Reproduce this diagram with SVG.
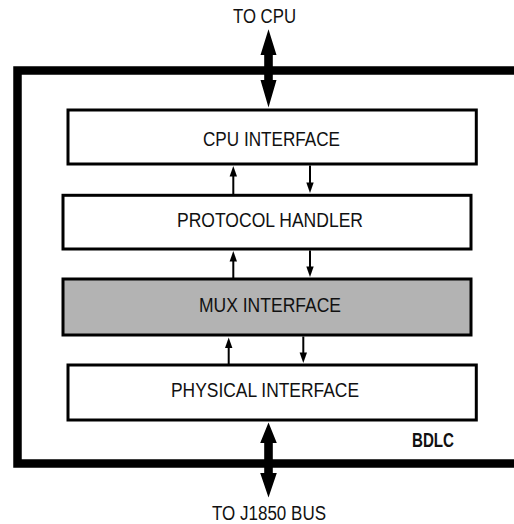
<svg xmlns="http://www.w3.org/2000/svg" width="514" height="524" viewBox="0 0 514 524">
<style>
.box{fill:#fff;stroke:#000;stroke-width:3}
.mux{fill:#b3b3b3;stroke:#000;stroke-width:3}
.lbl{font-family:"Liberation Sans",Arial,sans-serif;font-size:19.5px;fill:#111;text-anchor:middle}
.bold{font-weight:bold}
.ln{stroke:#000;stroke-width:2;fill:none}
.hd{fill:#000}
</style>
<rect width="514" height="524" fill="#fff"/>
<g id="bdlc-frame">
<path d="M514,70.5 H17.5 V463.5 H514" fill="none" stroke="#000" stroke-width="8.5"/>
<text class="lbl bold" x="433" y="447" textLength="42" lengthAdjust="spacingAndGlyphs">BDLC</text>
</g>
<g id="to-cpu">
<text class="lbl" x="264.5" y="22.5" textLength="63" lengthAdjust="spacingAndGlyphs">TO CPU</text>
</g>
<g id="to-j1850">
<text class="lbl" x="269" y="520" textLength="114" lengthAdjust="spacingAndGlyphs">TO J1850 BUS</text>
</g>
<g id="cpu-interface">
<rect class="box" x="68" y="110" width="408.3" height="54"/>
<text class="lbl" x="271.5" y="146" textLength="137" lengthAdjust="spacingAndGlyphs">CPU INTERFACE</text>
</g>
<g id="protocol-handler">
<rect class="box" x="63" y="195.3" width="408" height="53.7"/>
<text class="lbl" x="270" y="226.7" textLength="186" lengthAdjust="spacingAndGlyphs">PROTOCOL HANDLER</text>
</g>
<g id="mux-interface">
<rect class="mux" x="63" y="279" width="408" height="56"/>
<text class="lbl" x="270" y="311.7" textLength="142" lengthAdjust="spacingAndGlyphs">MUX INTERFACE</text>
</g>
<g id="physical-interface">
<rect class="box" x="68" y="365" width="408.3" height="55"/>
<text class="lbl" x="265" y="397.3" textLength="188" lengthAdjust="spacingAndGlyphs">PHYSICAL INTERFACE</text>
</g>
<g id="connectors">
<polygon class="hd" points="268.5,29.3 276.5,55 272.8,55 272.8,80 276.5,80 268.5,107.5 260.5,80 264.2,80 264.2,55 260.5,55"/>
<polygon class="hd" points="268.5,422.5 276.8,443 272.8,443 272.8,473 276.8,473 268.5,497.5 260.2,473 264.2,473 264.2,443 260.2,443"/>
<line class="ln" x1="233.3" y1="194" x2="233.3" y2="175"/>
<polygon class="hd" points="233.3,166 237,176.5 229.6,176.5"/>
<line class="ln" x1="310" y1="165.5" x2="310" y2="183"/>
<polygon class="hd" points="310,193 313.7,182.5 306.3,182.5"/>
<line class="ln" x1="233.3" y1="278" x2="233.3" y2="260"/>
<polygon class="hd" points="233.3,251 237,261.5 229.6,261.5"/>
<line class="ln" x1="310" y1="250.5" x2="310" y2="267"/>
<polygon class="hd" points="310,277 313.7,266.5 306.3,266.5"/>
<line class="ln" x1="228.7" y1="364" x2="228.7" y2="347"/>
<polygon class="hd" points="228.7,337.5 232.4,348 225,348"/>
<line class="ln" x1="303.3" y1="336.5" x2="303.3" y2="353"/>
<polygon class="hd" points="303.3,363 307,352.5 299.6,352.5"/>
</g>
</svg>
